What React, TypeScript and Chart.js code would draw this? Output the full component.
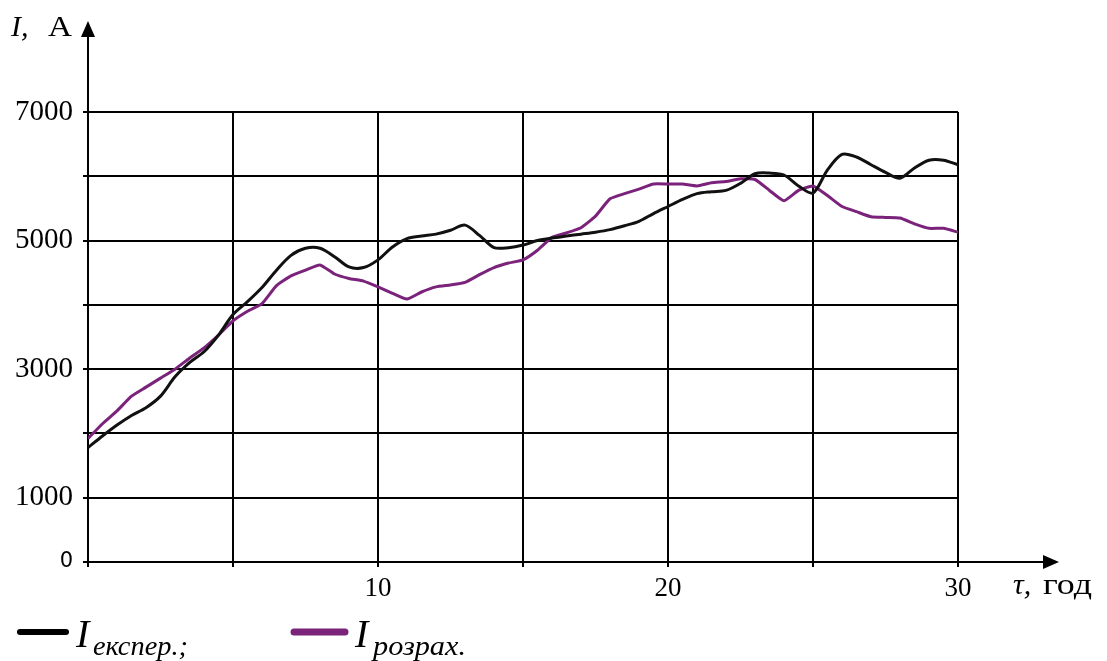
import React, { useEffect, useRef } from "react";
import { Chart, registerables } from "chart.js";

Chart.register(...registerables);

const tau: number[] = [
  0, 0.5, 1, 1.5, 2, 2.5, 3, 3.5, 4, 4.5, 5, 5.5, 6, 6.5, 7, 7.5, 8, 8.5, 9, 9.5,
  10, 10.5, 11, 11.5, 12, 12.5, 13, 13.5, 14, 14.5, 15, 15.5, 16, 16.5, 17, 17.5,
  18, 18.5, 19, 19.5, 20, 20.5, 21, 21.5, 22, 22.5, 23, 23.5, 24, 24.5, 25, 25.5,
  26, 26.5, 27, 27.5, 28, 28.5, 29, 29.5, 30,
];

const iExper: number[] = [
  1780, 1960, 2130, 2280, 2400, 2580, 2880, 3100, 3270, 3530, 3850, 4050, 4270, 4540, 4770, 4880, 4880, 4750, 4590, 4580,
  4700, 4900, 5030, 5070, 5100, 5160, 5240, 5080, 4890, 4890, 4930, 5000, 5040, 5070, 5100, 5130,
  5170, 5230, 5300, 5420, 5530, 5640, 5730, 5760, 5780, 5890, 6040, 6050, 6020, 5850, 5740, 6100,
  6340, 6300, 6180, 6060, 5970, 6130, 6250, 6250, 6180,
];

const iRozrah: number[] = [
  1920, 2150, 2350, 2580, 2720, 2860, 3000, 3170, 3330, 3530, 3750, 3900, 4020, 4300, 4450, 4540, 4620, 4480, 4410, 4370,
  4280, 4180, 4090, 4200, 4280, 4310, 4350, 4470, 4580, 4650, 4700, 4850, 5050, 5120, 5200, 5380,
  5650, 5730, 5800, 5880, 5880, 5880, 5850, 5900, 5920, 5960, 5950, 5780, 5620, 5780, 5850, 5700,
  5530, 5450, 5370, 5360, 5350, 5260, 5190, 5190, 5130,
];

const yTickLabels: number[] = [0, 1000, 3000, 5000, 7000];
const xTickLabels: number[] = [10, 20, 30];

const seriesNames = ["експер.;", "розрах."];
const yTitle = ["I,", "A"];
const xTitle = ["τ,", "год"];

const SERIF = "'Liberation Serif', 'DejaVu Serif', serif";
const SANS = "'DejaVu Sans', 'Liberation Sans', sans-serif";
const PURPLE = "#7b237b";

function drawText(
  ctx: CanvasRenderingContext2D,
  text: string,
  x0: number,
  baseline: number,
  font: string,
  x1?: number
) {
  ctx.save();
  ctx.font = font;
  ctx.textAlign = "left";
  ctx.textBaseline = "alphabetic";
  let sx = 1;
  if (x1 !== undefined) {
    const w = ctx.measureText(text).width;
    if (w > 0) sx = Math.min(1.2, Math.max(0.85, (x1 - x0) / w));
  }
  ctx.translate(x0, baseline);
  ctx.scale(sx, 1);
  ctx.fillText(text, 0, 0);
  ctx.restore();
}

const decorPlugin = {
  id: "decor",
  afterDraw(chart: any) {
    const ctx = chart.ctx as CanvasRenderingContext2D;
    const a = chart.chartArea;
    ctx.save();
    ctx.strokeStyle = "#000";
    ctx.fillStyle = "#000";
    ctx.lineWidth = 2;
    // y axis extension + arrow
    ctx.beginPath();
    ctx.moveTo(a.left, a.top);
    ctx.lineTo(a.left, 36);
    ctx.stroke();
    ctx.beginPath();
    ctx.moveTo(a.left, 21);
    ctx.lineTo(a.left - 7, 37);
    ctx.lineTo(a.left + 7, 37);
    ctx.closePath();
    ctx.fill();
    // x axis extension + arrow
    ctx.beginPath();
    ctx.moveTo(a.right, a.bottom);
    ctx.lineTo(1044, a.bottom);
    ctx.stroke();
    ctx.beginPath();
    ctx.moveTo(1059, a.bottom);
    ctx.lineTo(1043, a.bottom - 7);
    ctx.lineTo(1043, a.bottom + 7);
    ctx.closePath();
    ctx.fill();

    // axis titles
    drawText(ctx, yTitle[0], 11, 36, `italic 30px ${SERIF}`);
    drawText(ctx, yTitle[1], 48, 36, `30px ${SERIF}`, 72);
    drawText(ctx, xTitle[0], 1013, 594, `italic 30px ${SERIF}`);
    drawText(ctx, xTitle[1], 1043, 594, `30px ${SERIF}`, 1102);

    // legend
    const items = [
      { color: "#000", x0: 20, x1: 66, iX: 76, subX0: 93, subX1: 188, width: 6 },
      { color: PURPLE, x0: 294, x1: 345, iX: 355, subX0: 373, subX1: 466, width: 7 },
    ];
    items.forEach((it, i) => {
      ctx.strokeStyle = it.color;
      ctx.lineWidth = it.width;
      ctx.lineCap = "round";
      ctx.beginPath();
      ctx.moveTo(it.x0, 632);
      ctx.lineTo(it.x1, 632);
      ctx.stroke();
      ctx.fillStyle = "#000";
      drawText(ctx, "I", it.iX, 647, `italic 40px ${SERIF}`);
      drawText(ctx, seriesNames[i], it.subX0, 655, `italic 28px ${SERIF}`, it.subX1);
    });
    ctx.restore();
  },
};

export default function App() {
  const ref = useRef<HTMLCanvasElement | null>(null);

  useEffect(() => {
    if (!ref.current) return;
    const chart = new Chart(ref.current, {
      type: "line",
      data: {
        datasets: [
          {
            label: "I експер.",
            data: tau.map((t, i) => ({ x: t, y: iExper[i] })),
            borderColor: "#111",
            borderWidth: 3,
            pointRadius: 0,
            tension: 0.3,
          },
          {
            label: "I розрах.",
            data: tau.map((t, i) => ({ x: t, y: iRozrah[i] })),
            borderColor: PURPLE,
            borderWidth: 3,
            pointRadius: 0,
            tension: 0.15,
          },
        ],
      },
      options: {
        animation: false,
        responsive: false,
        devicePixelRatio: 1,
        layout: { padding: { top: 112, right: 149, left: 0, bottom: 0 } },
        plugins: { legend: { display: false }, tooltip: { enabled: false } },
        scales: {
          x: {
            type: "linear",
            min: 0,
            max: 30,
            afterFit: (s: any) => {
              s.height = 99;
            },
            ticks: {
              stepSize: 5,
              color: "#000",
              padding: 6,
              maxRotation: 0,
              autoSkip: false,
              font: { family: SERIF, size: 27 },
              callback: (v: any) => (xTickLabels.includes(Number(v)) ? String(v) : ""),
            },
            grid: { color: "#000", lineWidth: 2, tickLength: 5 },
            border: { color: "#000", width: 2 },
          },
          y: {
            type: "linear",
            min: 0,
            max: 7000,
            afterFit: (s: any) => {
              s.width = 88;
            },
            ticks: {
              stepSize: 1000,
              color: "#000",
              padding: 10,
              autoSkip: false,
              font: (c: any) =>
                c.tick && c.tick.value === 0
                  ? { family: SANS, size: 21 }
                  : { family: SERIF, size: 29 },
              callback: (v: any) => (yTickLabels.includes(Number(v)) ? String(v) : ""),
            },
            grid: { color: "#000", lineWidth: 2, tickLength: 5 },
            border: { color: "#000", width: 2 },
          },
        },
      },
      plugins: [decorPlugin],
    });
    return () => chart.destroy();
  }, []);

  return (
    <div style={{ position: "fixed", left: 0, top: 0, width: 1107, height: 661, background: "#fff" }}>
      <canvas ref={ref} width={1107} height={661} />
    </div>
  );
}
